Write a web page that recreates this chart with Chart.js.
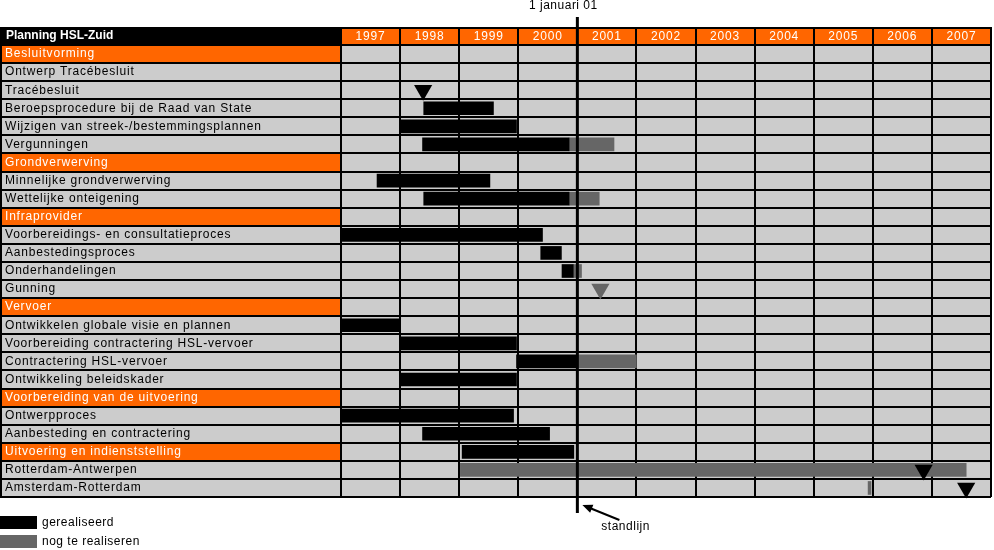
<!DOCTYPE html>
<html>
<head>
<meta charset="utf-8">
<title>Planning HSL-Zuid</title>
<script src="https://cdn.jsdelivr.net/npm/chart.js@4.4.0/dist/chart.umd.min.js"></script>
<style>
  html, body { margin: 0; padding: 0; background: #fff; }
  canvas { display: block; }
</style>
</head>
<body>
<canvas id="planning" width="994" height="550"></canvas>
<script>
// rijen van de planning, van boven naar beneden
const rows = [
  'Besluitvorming',
  'Ontwerp Tracébesluit',
  'Tracébesluit',
  'Beroepsprocedure bij de Raad van State',
  'Wijzigen van streek-/bestemmingsplannen',
  'Vergunningen',
  'Grondverwerving',
  'Minnelijke grondverwerving',
  'Wettelijke onteigening',
  'Infraprovider',
  'Voorbereidings- en consultatieproces',
  'Aanbestedingsproces',
  'Onderhandelingen',
  'Gunning',
  'Vervoer',
  'Ontwikkelen globale visie en plannen',
  'Voorbereiding contractering HSL-vervoer',
  'Contractering HSL-vervoer',
  'Ontwikkeling beleidskader',
  'Voorbereiding van de uitvoering',
  'Ontwerpproces',
  'Aanbesteding en contractering',
  'Uitvoering en indienststelling',
  'Rotterdam-Antwerpen',
  'Amsterdam-Rotterdam'
];

// koprijen (oranje)
const groups = [
  'Besluitvorming',
  'Grondverwerving',
  'Infraprovider',
  'Vervoer',
  'Voorbereiding van de uitvoering',
  'Uitvoering en indienststelling'
];

const firstYear = 1997;
const lastYear = 2008;
const standDate = 2001; // 1 januari 01

// [rij, begin, eind] in jaren
const gerealiseerd = [
  ['Beroepsprocedure bij de Raad van State', 1998.40, 1999.58],
  ['Wijzigen van streek-/bestemmingsplannen', 1998.00, 1999.97],
  ['Vergunningen', 1998.38, 2000.86],
  ['Minnelijke grondverwerving', 1997.61, 1999.52],
  ['Wettelijke onteigening', 1998.40, 2000.86],
  ['Voorbereidings- en consultatieproces', 1997.00, 2000.41],
  ['Aanbestedingsproces', 2000.38, 2000.73],
  ['Onderhandelingen', 2000.74, 2000.93],
  ['Ontwikkelen globale visie en plannen', 1997.00, 1998.00],
  ['Voorbereiding contractering HSL-vervoer', 1998.00, 1999.97],
  ['Contractering HSL-vervoer', 1999.97, 2001.00],
  ['Ontwikkeling beleidskader', 1998.00, 1999.97],
  ['Ontwerpproces', 1997.00, 1999.92],
  ['Aanbesteding en contractering', 1998.38, 2000.53],
  ['Uitvoering en indienststelling', 1999.05, 2000.94]
];

const nogTeRealiseren = [
  ['Vergunningen', 2000.86, 2001.62],
  ['Wettelijke onteigening', 2000.86, 2001.37],
  ['Onderhandelingen', 2000.93, 2001.07],
  ['Contractering HSL-vervoer', 2001.00, 2002.00],
  ['Rotterdam-Antwerpen', 1999.02, 2007.58],
  ['Amsterdam-Rotterdam', 2005.92, 2005.97]
];

// [rij, datum, gerealiseerd?]
const mijlpalen = [
  ['Tracébesluit', 1998.39, true],
  ['Gunning', 2001.39, false],
  ['Rotterdam-Antwerpen', 2006.86, true],
  ['Amsterdam-Rotterdam', 2007.58, true]
];

const ORANGE = '#ff6600';
const CELL = '#cccccc';
const BLACK = '#000000';
const GREY = '#666666';
const FONT = "'Liberation Sans', Arial, sans-serif";

Chart.defaults.font.family = FONT;
Chart.defaults.font.size = 12;

const tablePlugin = {
  id: 'table',
  beforeDraw(chart) {
    const {ctx, chartArea: a, scales: {x, y}} = chart;
    const top = x.top;
    const h = y.getPixelForValue(1) - y.getPixelForValue(0);
    ctx.save();
    ctx.fillStyle = CELL;
    ctx.fillRect(0, a.top, a.right, a.bottom - a.top);
    ctx.fillStyle = BLACK;
    ctx.fillRect(0, top, a.left, a.top - top);
    ctx.fillStyle = ORANGE;
    ctx.fillRect(a.left, top, a.right - a.left, a.top - top);
    groups.forEach(g => {
      const cy = y.getPixelForValue(rows.indexOf(g));
      ctx.fillRect(0, cy - h / 2, a.left, h);
    });
    ctx.strokeStyle = BLACK;
    ctx.lineWidth = 2;
    ctx.beginPath();
    ctx.moveTo(1, a.bottom);
    ctx.lineTo(1, top + 1);
    ctx.lineTo(a.right, top + 1);
    ctx.stroke();
    ctx.restore();
    ctx.letterSpacing = '0.8px';
  },
  afterDatasetsDraw(chart) {
    const {ctx, chartArea: a, scales: {x}} = chart;
    const sx = x.getPixelForValue(standDate);
    ctx.save();
    ctx.strokeStyle = BLACK;
    ctx.lineWidth = 3;
    ctx.beginPath();
    ctx.moveTo(sx, 17);
    ctx.lineTo(sx, a.bottom + 16);
    ctx.stroke();
    ctx.restore();
  },
  afterDraw(chart) {
    const {ctx, chartArea: a, scales: {x}} = chart;
    const sx = x.getPixelForValue(standDate);
    ctx.save();
    ctx.letterSpacing = '0px';
    ctx.textBaseline = 'middle';

    // titel
    ctx.font = 'bold 12px ' + FONT;
    ctx.fillStyle = '#ffffff';
    ctx.textAlign = 'left';
    ctx.fillText('Planning HSL-Zuid', 6, (x.top + a.top) / 2);

    ctx.font = '12px ' + FONT;
    ctx.letterSpacing = '0.5px';
    ctx.fillStyle = BLACK;

    // standlijn teksten
    ctx.textAlign = 'center';
    ctx.fillText('1 januari 01', sx - 14, 6);
    ctx.textAlign = 'left';
    ctx.fillText('standlijn', sx + 24, 527);

    // pijl
    const x0 = sx + 42, y0 = 520, x1 = sx + 5, y1 = 505;
    const ang = Math.atan2(y1 - y0, x1 - x0);
    ctx.strokeStyle = BLACK;
    ctx.lineWidth = 2;
    ctx.beginPath();
    ctx.moveTo(x0, y0);
    ctx.lineTo(x1 - Math.cos(ang) * 6, y1 - Math.sin(ang) * 6);
    ctx.stroke();
    ctx.beginPath();
    ctx.moveTo(x1, y1);
    ctx.lineTo(x1 - 11 * Math.cos(ang - 0.4), y1 - 11 * Math.sin(ang - 0.4));
    ctx.lineTo(x1 - 11 * Math.cos(ang + 0.4), y1 - 11 * Math.sin(ang + 0.4));
    ctx.closePath();
    ctx.fill();

    // legenda
    const items = chart.data.datasets.filter(d => d.type === 'bar');
    items.forEach((d, i) => {
      const ly = a.bottom + 19 + i * 19;
      ctx.fillStyle = d.backgroundColor;
      ctx.fillRect(0, ly, 37, 13);
      ctx.fillStyle = BLACK;
      ctx.fillText(d.label, 42, ly + 7);
    });
    ctx.restore();
  }
};

new Chart(document.getElementById('planning'), {
  type: 'bar',
  data: {
    labels: rows,
    datasets: [
      {
        type: 'scatter',
        label: 'mijlpaal',
        order: -1,
        data: mijlpalen.map(m => ({y: m[0], x: m[1]})),
        pointStyle: 'triangle',
        rotation: 180,
        pointRadius: 10.5,
        pointBorderWidth: 0,
        pointBackgroundColor: mijlpalen.map(m => m[2] ? BLACK : GREY)
      },
      {
        type: 'bar',
        label: 'gerealiseerd',
        data: gerealiseerd.map(b => ({y: b[0], x: [b[1], b[2]]})),
        backgroundColor: BLACK,
        grouped: false,
        barThickness: 13
      },
      {
        type: 'bar',
        label: 'nog te realiseren',
        data: nogTeRealiseren.map(b => ({y: b[0], x: [b[1], b[2]]})),
        backgroundColor: GREY,
        grouped: false,
        barThickness: 13
      }
    ]
  },
  options: {
    indexAxis: 'y',
    responsive: false,
    animation: false,
    devicePixelRatio: 1,
    layout: {autoPadding: false, padding: {left: 5, top: 27, right: 3, bottom: 53}},
    plugins: {
      legend: {display: false},
      tooltip: {enabled: false}
    },
    scales: {
      x: {
        type: 'linear',
        position: 'top',
        min: firstYear,
        max: lastYear,
        afterFit: s => { s.height = 18; },
        ticks: {
          stepSize: 1,
          autoSkip: false,
          maxRotation: 0,
          color: '#ffffff',
          padding: -17,
          labelOffset: 29.5,
          callback: v => v < lastYear ? String(v) : ''
        },
        grid: {
          color: BLACK,
          lineWidth: 2,
          tickLength: 18,
          tickColor: BLACK
        },
        border: {display: true, color: BLACK, width: 2}
      },
      y: {
        type: 'category',
        labels: rows,
        offset: true,
        afterFit: s => { s.width = 336; },
        ticks: {
          autoSkip: false,
          crossAlign: 'far',
          padding: 0,
          color: c => groups.includes(rows[c.index]) ? '#ffffff' : BLACK
        },
        grid: {
          offset: true,
          color: BLACK,
          lineWidth: 2,
          tickLength: 341,
          tickColor: BLACK
        },
        border: {display: true, color: BLACK, width: 2}
      }
    }
  },
  plugins: [tablePlugin]
});
</script>
</body>
</html>
